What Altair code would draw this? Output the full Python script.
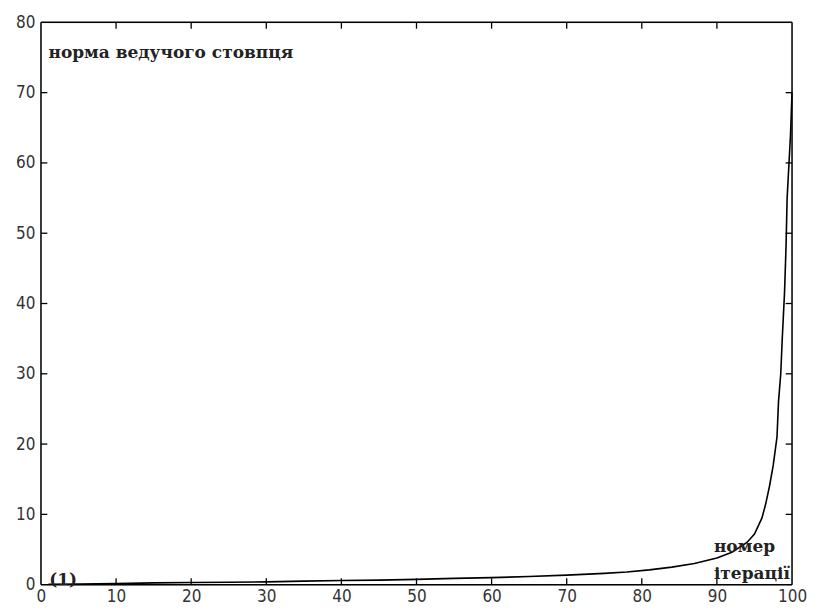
import altair as alt
import pandas as pd

# curve: iteration number vs. leading-column norm
iter_x = [1, 5, 10, 15, 20, 25, 30, 35, 40, 45, 50, 55, 60, 65, 70, 75, 78, 81, 84,
          87, 90, 92, 94, 95, 96, 96.5, 97, 97.5, 98, 98.2, 98.5, 98.7, 99, 99.2,
          99.35, 99.6, 99.8, 100]
norm_y = [0.05, 0.1, 0.15, 0.25, 0.3, 0.35, 0.4, 0.5, 0.6, 0.65, 0.75, 0.9, 1.0,
          1.15, 1.35, 1.6, 1.8, 2.1, 2.5, 3.0, 3.8, 4.6, 6.0, 7.2, 9.5, 11.5, 14.0,
          17.0, 21.0, 26.0, 30.0, 35.0, 41.5, 48.0, 55.0, 60.0, 64.0, 70.0]

x_ticks = [0, 10, 20, 30, 40, 50, 60, 70, 80, 90, 100]
y_ticks = [0, 10, 20, 30, 40, 50, 60, 70, 80]
x_inner = [10, 20, 30, 40, 50, 60, 70, 80, 90]
y_inner = [10, 20, 30, 40, 50, 60, 70]
frame_x = [0, 100]
frame_y = [0, 80]

labels_text = ["норма ведучого стовпця", "номер", "ітерації", "(1)"]
labels_x = [1.0, 89.6, 89.6, 1.1]
labels_y = [75.6, 5.3, 1.5, 0.7]

curve = pd.DataFrame({"x": iter_x, "y": norm_y})
ann = pd.DataFrame({"x": labels_x, "y": labels_y, "t": labels_text})

xs = alt.Scale(domain=[0, 100], nice=False, zero=False)
ys = alt.Scale(domain=[0, 80], nice=False, zero=False)

label_font = "Liberation Sans Narrow, DejaVu Sans Condensed, Arial Narrow, sans-serif"

line = alt.Chart(curve).mark_line(color="black", strokeWidth=1.6).encode(
    x=alt.X("x:Q", scale=xs, title=None,
            axis=alt.Axis(values=x_ticks, ticks=False, grid=False, domain=False,
                          labelFont=label_font, labelFontSize=17, labelColor="#333",
                          labelPadding=4, labelFlush=False)),
    y=alt.Y("y:Q", scale=ys, title=None,
            axis=alt.Axis(values=y_ticks, ticks=False, grid=False, domain=False,
                          labelFont=label_font, labelFontSize=17, labelColor="#333",
                          labelPadding=6, labelFlush=False)),
)

tl = 0.9   # tick length in y units
tlx = 0.85  # tick length in x units
xt = pd.DataFrame({"x": x_inner})
yt = pd.DataFrame({"y": y_inner})
fx = pd.DataFrame({"x": frame_x})
fy = pd.DataFrame({"y": frame_y})

bottom_ticks = alt.Chart(xt).mark_rule(color="black", strokeWidth=1.3).encode(
    x=alt.X("x:Q", scale=xs), y=alt.datum(0, scale=ys), y2=alt.datum(tl))
top_ticks = alt.Chart(xt).mark_rule(color="black", strokeWidth=1.3).encode(
    x=alt.X("x:Q", scale=xs), y=alt.datum(80 - tl, scale=ys), y2=alt.datum(80))
left_ticks = alt.Chart(yt).mark_rule(color="black", strokeWidth=1.3).encode(
    y=alt.Y("y:Q", scale=ys), x=alt.datum(0, scale=xs), x2=alt.datum(tlx))
right_ticks = alt.Chart(yt).mark_rule(color="black", strokeWidth=1.3).encode(
    y=alt.Y("y:Q", scale=ys), x=alt.datum(100 - tlx, scale=xs), x2=alt.datum(100))
frame_v = alt.Chart(fx).mark_rule(color="black", strokeWidth=1.5).encode(
    x=alt.X("x:Q", scale=xs), y=alt.datum(0, scale=ys), y2=alt.datum(80))
frame_h = alt.Chart(fy).mark_rule(color="black", strokeWidth=1.5).encode(
    y=alt.Y("y:Q", scale=ys), x=alt.datum(0, scale=xs), x2=alt.datum(100))

texts = alt.Chart(ann).mark_text(
    font="DejaVu Serif", fontSize=17, fontWeight="bold", color="#222",
    align="left", baseline="middle"
).encode(x=alt.X("x:Q", scale=xs), y=alt.Y("y:Q", scale=ys), text="t:N")

chart = alt.layer(
    line, bottom_ticks, top_ticks, left_ticks, right_ticks, frame_v, frame_h, texts
).properties(
    width=752, height=563,
    autosize=alt.AutoSizeParams(type="none"),
    padding={"left": 33, "top": 14, "right": 15, "bottom": 28},
).configure_view(stroke="black", strokeWidth=1.5).configure(background="white")

chart.save("out.html", embed_options={"renderer": "svg", "actions": False})
